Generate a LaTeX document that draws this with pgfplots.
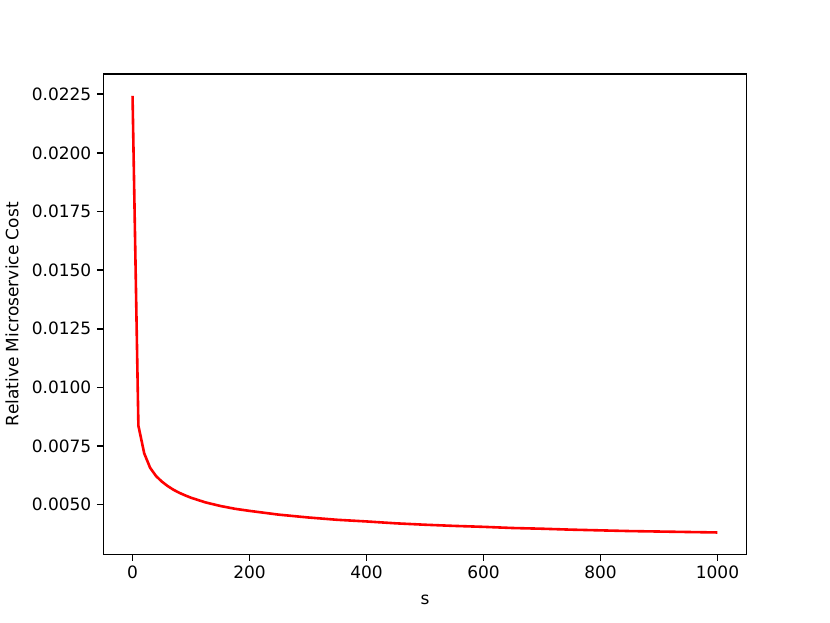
\documentclass[border=0pt]{standalone}
\usepackage{fontspec}
\setmainfont{DejaVu Sans}
\usepackage{pgfplots}
\pgfplotsset{compat=1.18}
\definecolor{mplred}{RGB}{255,0,0}

\begin{document}
\begin{tikzpicture}[x=1pt,y=1pt]
  \path[use as bounding box] (0,0) rectangle (830,623);
  \begin{axis}[
    at={(103.3pt,68.7pt)}, anchor=south west,
    scale only axis,
    width=643.4pt, height=480.3pt,
    xmin=-50, xmax=1050,
    ymin=0.00289, ymax=0.02336,
    xtick={0,200,400,600,800,1000},
    ytick={0.005,0.0075,0.01,0.0125,0.015,0.0175,0.02,0.0225},
    yticklabels={0.0050,0.0075,0.0100,0.0125,0.0150,0.0175,0.0200,0.0225},
    scaled y ticks=false,
    /pgf/number format/1000 sep={},
    /pgf/number format/assume math mode=true,
    tick label style={font=\fontsize{17}{20}\selectfont},
    tick align=outside, tick pos=left,
    major tick length=6.5pt,
    xticklabel style={yshift=-2pt},
    yticklabel style={xshift=-2pt},
    axis line style={line width=1.4pt},
    every tick/.style={line width=1.4pt, black},
    xlabel={s},
    ylabel={Relative Microservice Cost},
    every axis x label/.style={at={(axis description cs:0.5,-0.095)}, anchor=center,
      font=\fontsize{17}{20}\selectfont},
    every axis y label/.style={at={(axis description cs:-0.142,0.5)}, rotate=90, anchor=center,
      font=\fontsize{17}{20}\selectfont},
  ]
    \addplot[mplred, line width=2.6pt, line join=round] coordinates {
      (0,0.02243) (10,0.00837) (20,0.00719) (30,0.00658) (40,0.00623)
      (50,0.00599) (60,0.00580) (70,0.00564) (80,0.00551) (90,0.00540)
      (100,0.00530) (125,0.00510) (150,0.00495) (175,0.00483) (200,0.00474)
      (250,0.00458) (300,0.00446) (350,0.00436) (400,0.00429) (450,0.00421)
      (500,0.00415) (550,0.00410) (600,0.00406) (650,0.00401) (700,0.00398)
      (750,0.00394) (800,0.00391) (850,0.00388) (900,0.00386) (950,0.00384)
      (1000,0.00382)
    };
  \end{axis}
\end{tikzpicture}
\end{document}
